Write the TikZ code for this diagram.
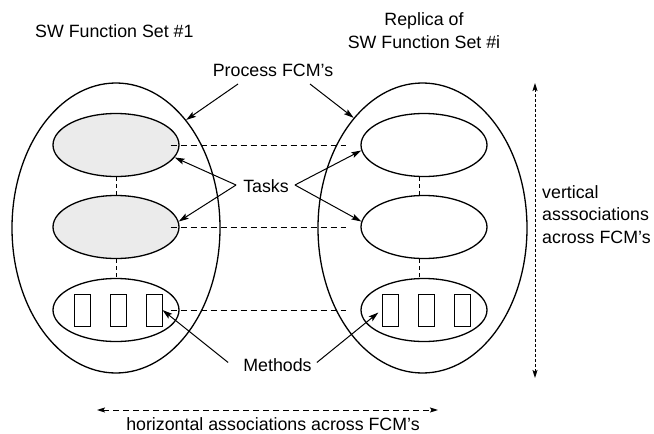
\documentclass[tikz,border=0pt]{standalone}
\usepackage{fontspec}
\setmainfont{Liberation Sans}
\usetikzlibrary{shapes.geometric,arrows.meta}
\begin{document}
\begin{tikzpicture}[x=1pt,y=-1pt,
  lbl/.style={inner sep=0pt,font=\fontsize{17.8}{21}\selectfont},
  fcmset/.style={ellipse,draw,line width=1.3pt,inner sep=0pt},
  taskell/.style={ellipse,draw,line width=1.3pt,inner sep=0pt,minimum width=126pt,minimum height=63pt},
  shaded/.style={fill=black!8},
  methodbox/.style={rectangle,draw,line width=1pt,inner sep=0pt,minimum width=16pt,minimum height=32pt},
  assoc/.style={line width=1pt,dash pattern=on 6pt off 4pt},
  inner link/.style={line width=1pt,dash pattern=on 4pt off 3pt},
  conn/.style={line width=1pt,-{Stealth[length=10pt,width=6pt,inset=2pt]}},
  dirarrow/.style={line width=1pt,{Stealth[length=8pt,width=5pt,inset=1.5pt]}-{Stealth[length=8pt,width=5pt,inset=1.5pt]}}]

\useasboundingbox[fill=white] (0,0) rectangle (654,434);

% process FCM sets
\node[fcmset,minimum width=208pt,minimum height=290pt] (L) at (116,228) {};
\node[fcmset,minimum width=209pt,minimum height=290pt] (R) at (422.5,228) {};

% task FCMs
\node[taskell,shaded] (l1) at (116,145) {};
\node[taskell,shaded] (l2) at (116,227) {};
\node[taskell] (l3) at (116,310) {};
\node[taskell] (r1) at (424,145) {};
\node[taskell] (r2) at (424,227) {};
\node[taskell] (r3) at (424,310) {};

% methods
\node[methodbox] (lm1) at (82,310) {};
\node[methodbox] (lm2) at (118,310) {};
\node[methodbox] (lm3) at (154,310) {};
\node[methodbox] (rm1) at (390,310) {};
\node[methodbox] (rm2) at (426,310) {};
\node[methodbox] (rm3) at (462,310) {};

% horizontal associations between the sets
\foreach \i in {1,2,3}
  \draw[assoc,shorten <=-9pt,shorten >=14pt] (l\i.east) -- (r\i.west);

% vertical associations inside each set
\draw[inner link] (l1.south) -- (l2.north);
\draw[inner link] (l2.south) -- (l3.north);
\draw[inner link] ([xshift=-5pt]r1.south) -- ([xshift=-5pt]r2.north);
\draw[inner link] ([xshift=-5pt]r2.south) -- ([xshift=-5pt]r3.north);

% titles
\node[lbl,anchor=base west] (t1) at (35,37) {SW Function Set \#1};
\node[lbl,anchor=base] (t2a) at (424,25) {Replica of};
\node[lbl,anchor=base] (t2b) at (424,48) {SW Function Set \#i};

% labels with pointers
\node[lbl] (proc) at (273,70.5) {Process FCM’s};
\draw[conn] ([xshift=-35pt,yshift=-13.5pt]proc.center) -- (L.57);
\draw[conn] ([xshift=37pt,yshift=-13.5pt]proc.center) -- (R.122);

\node[lbl] (tasks) at (266,186) {Tasks};
\draw[conn] ([xshift=-7pt,yshift=1pt]tasks.west) -- (l1.-12);
\draw[conn] ([xshift=-7pt,yshift=1pt]tasks.west) -- (l2.5);
\draw[conn] ([xshift=6pt,yshift=1pt]tasks.east) -- (r1.185);
\draw[conn] ([xshift=6pt,yshift=1pt]tasks.east) -- (r2.175);

\node[lbl] (meth) at (277.5,365.5) {Methods};
\draw[conn] ([xshift=-15pt,yshift=3pt]meth.west) -- (lm3.east);
\draw[conn,shorten >=4pt] ([xshift=5pt,yshift=3pt]meth.east) -- (rm1.west);

% direction of associations
\coordinate (vtop) at (535,83);
\coordinate (vbot) at (535,378);
\draw[dirarrow,dash pattern=on 3pt off 2pt] (vtop) -- (vbot);
\node[lbl,anchor=base west] (v1) at (542,198) {vertical};
\node[lbl,anchor=base west] (v2) at (542,220.5) {asssociations};
\node[lbl,anchor=base west] (v3) at (542,243) {across FCM’s};

\coordinate (hleft) at (97,410);
\coordinate (hright) at (438,410);
\draw[dirarrow,dash pattern=on 6pt off 4pt] (hleft) -- (hright);
\node[lbl,anchor=base] (h1) at (273,430) {horizontal associations across FCM’s};
\end{tikzpicture}
\end{document}
